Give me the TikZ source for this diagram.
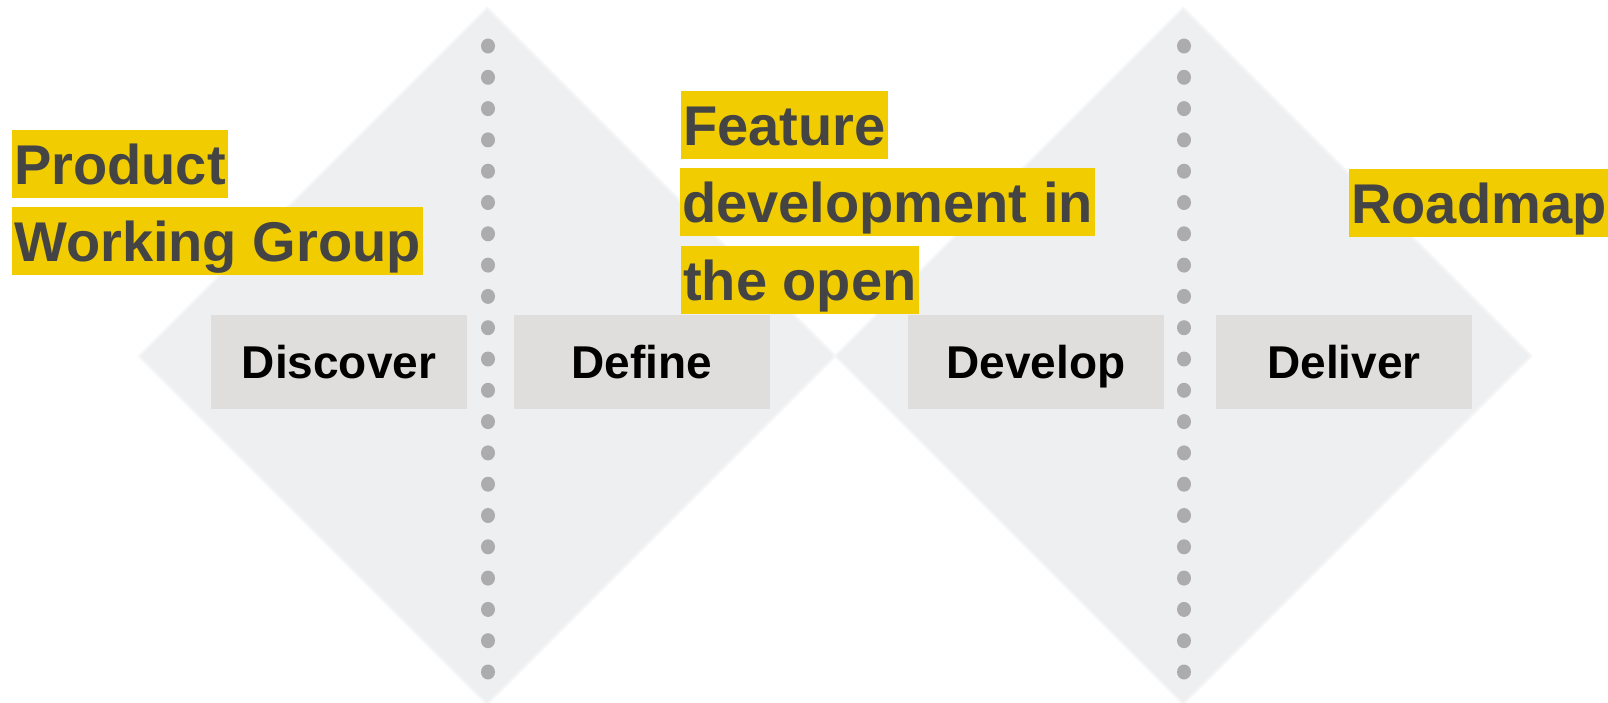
\documentclass[tikz,border=0pt]{standalone}
\usepackage{fontspec}
\setmainfont{Liberation Sans}
\definecolor{diam}{RGB}{238,239,241}
\definecolor{diamedgeA}{RGB}{248,248,249}
\definecolor{diamedgeB}{RGB}{243,244,245}
\definecolor{dotc}{RGB}{172,172,175}
\definecolor{boxc}{RGB}{224,222,220}
\definecolor{hl}{RGB}{240,204,0}
\definecolor{hltext}{RGB}{68,68,68}
\tikzset{
 phase/.style={fill=boxc, minimum width=256pt, minimum height=94pt, inner sep=0pt, text height=33pt, text depth=0pt, font=\fontsize{46}{50}\selectfont\bfseries, text=black},
 hlline/.style={fill=hl, anchor=north west, inner xsep=2pt, inner ysep=0pt, text height=54pt, text depth=14pt, font=\fontsize{56}{60}\selectfont\bfseries, text=hltext},
 dotstyle/.style={fill=dotc, ellipse, inner sep=0pt, minimum width=14pt, minimum height=15pt},
 diamondshape/.style={fill=diam}
}
\usetikzlibrary{shapes.geometric}
\begin{document}
\begin{tikzpicture}[x=1pt,y=-1pt]
\useasboundingbox (0,0) rectangle (1608,702);
% diamonds (soft edges by layering)
\foreach \cx in {487,1183}{
  \fill[diamedgeA] (\cx,6) -- (\cx+350,356) -- (\cx,706) -- (\cx-350,356) -- cycle;
  \fill[diamedgeB] (\cx,8) -- (\cx+348,356) -- (\cx,704) -- (\cx-348,356) -- cycle;
  \path[diamondshape] (\cx,10) -- (\cx+346,356) -- (\cx,702) -- (\cx-346,356) -- cycle;
}
% dotted dividers
\foreach \i in {0,...,20}{
  \node[dotstyle] (dotA\i) at (488,46+31.3*\i) {};
  \node[dotstyle] (dotB\i) at (1184,46+31.3*\i) {};
}
% phase boxes
\node[phase] (discover) at (339,362) {Discover};
\node[phase] (define) at (642,362) {Define};
\node[phase] (develop) at (1036,362) {Develop};
\node[phase] (deliver) at (1344,362) {Deliver};
% highlighted labels
\node[hlline] (pwg1) at (12,130) {Product};
\node[hlline] (pwg2) at (12,207) {Working Group};
\node[hlline] (fd1) at (681,91) {Feature};
\node[hlline] (fd2) at (680,168) {development in};
\node[hlline] (fd3) at (681,246) {the open};
\node[hlline] (rm) at (1349,169) {Roadmap};
\end{tikzpicture}
\end{document}
